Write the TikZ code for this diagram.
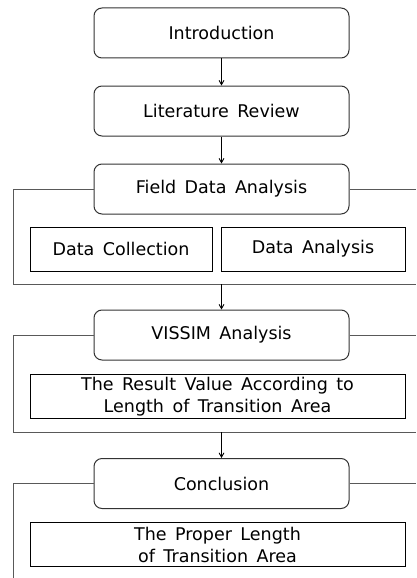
\documentclass[tikz,border=0pt]{standalone}
\usepackage{fontspec}
\setmainfont{DejaVu Sans}
\usetikzlibrary{arrows, positioning}

\tikzset{
    stage/.style={draw=black!80, rounded corners=8pt, minimum width=255pt, minimum height=50pt, line width=1pt},
    sub/.style={draw=black, minimum height=44pt, line width=1pt, align=center, inner sep=0pt},
    frameline/.style={draw=black!65, line width=1pt}
}

\begin{document}
\begin{tikzpicture}[x=1pt, y=1pt, ->, >=angle 60, line width=0.9pt, node distance=27pt, every node/.style={font=\fontsize{17.5}{22}\selectfont}]

    \useasboundingbox (0,0) rectangle (416,-578);

    \node[stage] (intro) at (221.5,-33) {Introduction};
    \node[stage] (lit)   [below=of intro] {Literature\, Review};
    \node[stage] (field) [below=of lit]   {Field\, Data\, Analysis};

    \node[sub, minimum width=182pt] (collect)  at (121,-249) {Data\, Collection};
    \node[sub, minimum width=184pt] (analysis) at (313,-249) {Data\, Analysis};

    \node[stage] (vissim) at (221.5,-335) {VISSIM\, Analysis};
    \node[sub, minimum width=375pt] (result) at (217.5,-396.5) {The\, Result\, Value\, According\, to\\Length\, of\, Transition\, Area};

    \node[stage] (concl) at (221.5,-483.5) {Conclusion};
    \node[sub, minimum width=375pt] (proper) at (217.5,-544.5) {The\, Proper\, Length\\of\, Transition\, Area};

    % frame corners
    \coordinate (f1l) at (13,-284);
    \coordinate (f1r) at (416,-284);
    \coordinate (f2l) at (13,-432);
    \coordinate (f2r) at (416,-432);
    \coordinate (f3l) at (13,-578);

    \path (intro) edge (lit)
          (lit)   edge (field);

    \draw[frameline, -] (field.west) -| (f1l) -- (f1r);
    \draw[frameline, -] (field.east) -- (field.east -| f1r);
    \draw[frameline, -] (vissim.west) -| (f2l) -- (f2r);
    \draw[frameline, -] (vissim.east) -- (vissim.east -| f2r);
    \draw[frameline, -] (concl.west) -| (f3l);
    \draw[frameline, -] (concl.east) -- (concl.east -| f2r);

    \draw (vissim.north |- f1l) -- (vissim);
    \draw (concl.north |- f2l) -- (concl);
\end{tikzpicture}
\end{document}
